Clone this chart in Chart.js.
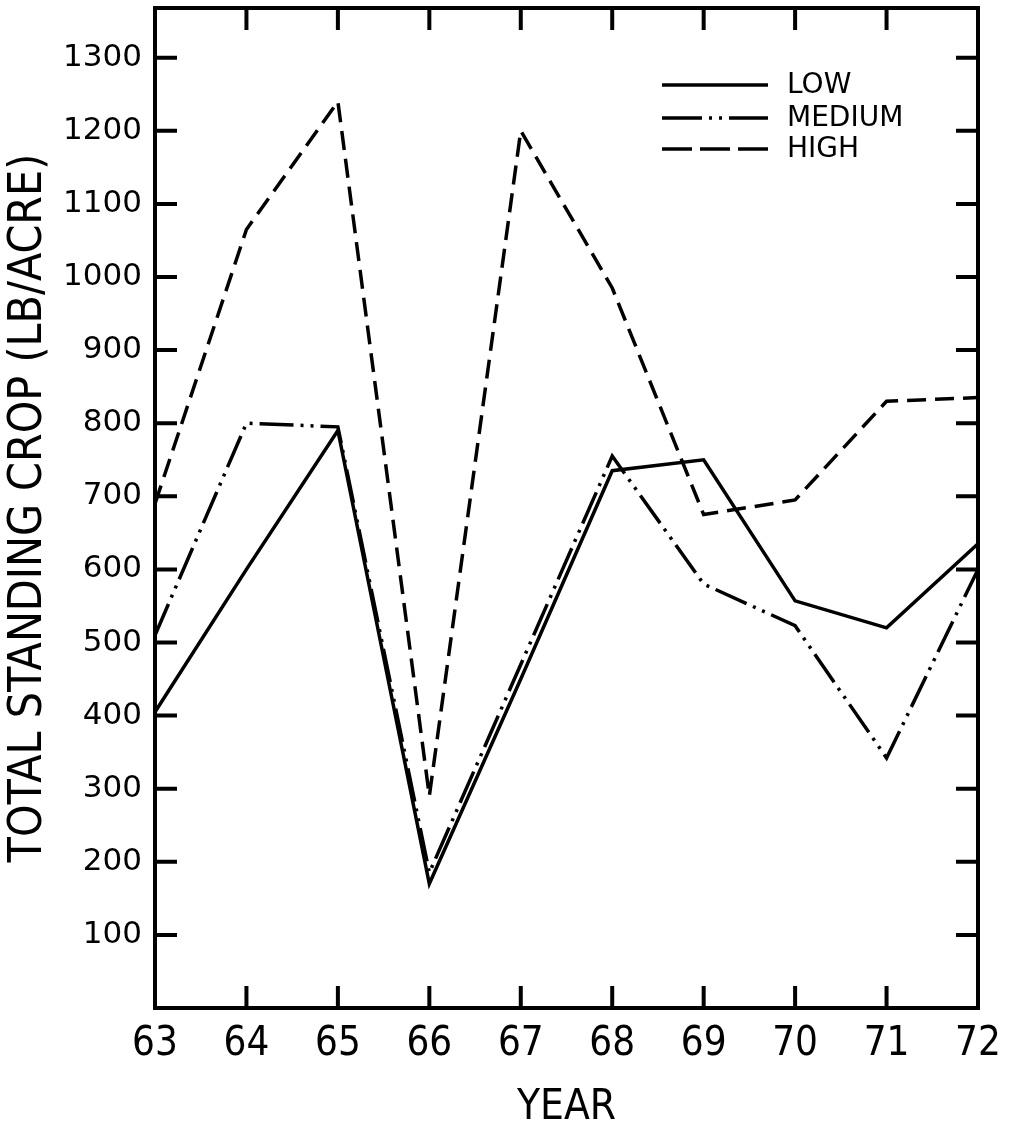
<!DOCTYPE html>
<html lang="en">
<head>
<meta charset="UTF-8">
<title>Total Standing Crop</title>
<script src="https://cdn.jsdelivr.net/npm/chart.js"></script>
<style>
    body { margin: 0; background: #fff; }
    .chart-box { width: 1010px; height: 1123px; }
</style>
</head>
<body>
<div class="chart-box"><canvas id="chart"></canvas></div>
<script>
// values (lb/acre)
const years = ['63', '64', '65', '66', '67', '68', '69', '70', '71', '72'];
const lowValues = [405, 600, 790, 170, 450, 735, 750, 557, 520, 635];
const mediumValues = [510, 800, 795, 185, 470, 755, 580, 523, 342, 600];
const highValues = [690, 1065, 1240, 290, 1200, 985, 675, 695, 830, 835];
const yTicks = [100, 200, 300, 400, 500, 600, 700, 800, 900, 1000, 1100, 1200, 1300];
const seriesNames = ['LOW', 'MEDIUM', 'HIGH'];

const narrow = '"Liberation Sans Narrow", "DejaVu Sans Condensed", "Roboto Condensed", "Liberation Sans", sans-serif';
const wide = '"DejaVu Sans", "Noto Sans", sans-serif';

// frame + inward tick marks on all four sides
const framePlugin = {
    id: 'frame',
    afterDatasetsDraw(chart) {
        const { ctx, chartArea: a, scales } = chart;
        const len = 22;
        ctx.save();
        ctx.strokeStyle = '#000';
        ctx.lineWidth = 4;
        ctx.lineCap = 'butt';
        ctx.strokeRect(a.left, a.top, a.right - a.left, a.bottom - a.top);
        ctx.beginPath();
        yTicks.forEach(v => {
            const y = scales.y.getPixelForValue(v);
            ctx.moveTo(a.left, y); ctx.lineTo(a.left + len, y);
            ctx.moveTo(a.right, y); ctx.lineTo(a.right - len, y);
        });
        for (let i = 1; i < years.length - 1; i++) {
            const x = scales.x.getPixelForValue(i);
            ctx.moveTo(x, a.top); ctx.lineTo(x, a.top + len);
            ctx.moveTo(x, a.bottom); ctx.lineTo(x, a.bottom - len);
        }
        ctx.stroke();
        ctx.restore();
    }
};

// legend drawn in the upper right of the plot
const legendPlugin = {
    id: 'lineLegend',
    afterDraw(chart) {
        const { ctx } = chart;
        const rows = [85, 118, 149];
        const dashes = [[], [40, 7, 3, 7, 3, 7], [30, 8]];
        ctx.save();
        ctx.font = '28px ' + wide;
        ctx.textBaseline = 'middle';
        ctx.fillStyle = '#000';
        chart.data.datasets.forEach((ds, i) => {
            ctx.beginPath();
            ctx.lineWidth = 3.5;
            ctx.strokeStyle = '#000';
            ctx.setLineDash(dashes[i]);
            ctx.moveTo(662, rows[i]);
            ctx.lineTo(768, rows[i]);
            ctx.stroke();
            ctx.fillText(ds.label, 787, rows[i] + 1);
        });
        ctx.restore();
    }
};

new Chart(document.getElementById('chart'), {
    type: 'line',
    data: {
        labels: years,
        datasets: [
            { label: seriesNames[0], data: lowValues, borderDash: [] },
            { label: seriesNames[1], data: mediumValues, borderDash: [34, 7, 3, 7, 3, 7] },
            { label: seriesNames[2], data: highValues, borderDash: [19, 9] }
        ].map(d => Object.assign(d, {
            borderColor: '#000',
            borderWidth: 3.5,
            pointRadius: 0,
            tension: 0,
            fill: false,
            borderJoinStyle: 'miter',
            borderCapStyle: 'butt'
        }))
    },
    options: {
        responsive: true,
        maintainAspectRatio: false,
        animation: false,
        layout: { padding: { left: 0, right: 32, top: 8, bottom: 0 } },
        plugins: {
            legend: { display: false },
            tooltip: { enabled: false }
        },
        scales: {
            x: {
                type: 'category',
                offset: false,
                grid: { display: false, drawTicks: false },
                border: { display: false },
                ticks: {
                    color: '#000',
                    padding: 13,
                    maxRotation: 0,
                    autoSkip: false,
                    font: { family: narrow, size: 40 }
                },
                title: {
                    display: true,
                    text: 'YEAR',
                    color: '#000',
                    font: { family: narrow, size: 42, lineHeight: 1 },
                    padding: { top: 0, bottom: -6 }
                },
                afterFit(scale) {
                    scale.height = 115;
                    scale.paddingLeft = 0;
                    scale.paddingRight = 0;
                }
            },
            y: {
                min: 0,
                max: 1368,
                grid: { display: false, drawTicks: false },
                border: { display: false },
                afterBuildTicks(scale) { scale.ticks = yTicks.map(v => ({ value: v })); },
                ticks: {
                    color: '#000',
                    padding: 13,
                    font: { family: wide, size: 31 },
                    callback: v => String(v)
                },
                title: {
                    display: true,
                    text: 'TOTAL STANDING CROP (LB/ACRE)',
                    color: '#000',
                    font: { family: narrow, size: 46, lineHeight: 1 },
                    padding: { top: 6, bottom: 0 }
                },
                afterFit(scale) {
                    scale.width = 155;
                    scale.paddingTop = 0;
                    scale.paddingBottom = 0;
                }
            }
        }
    },
    plugins: [framePlugin, legendPlugin]
});
</script>
</body>
</html>
